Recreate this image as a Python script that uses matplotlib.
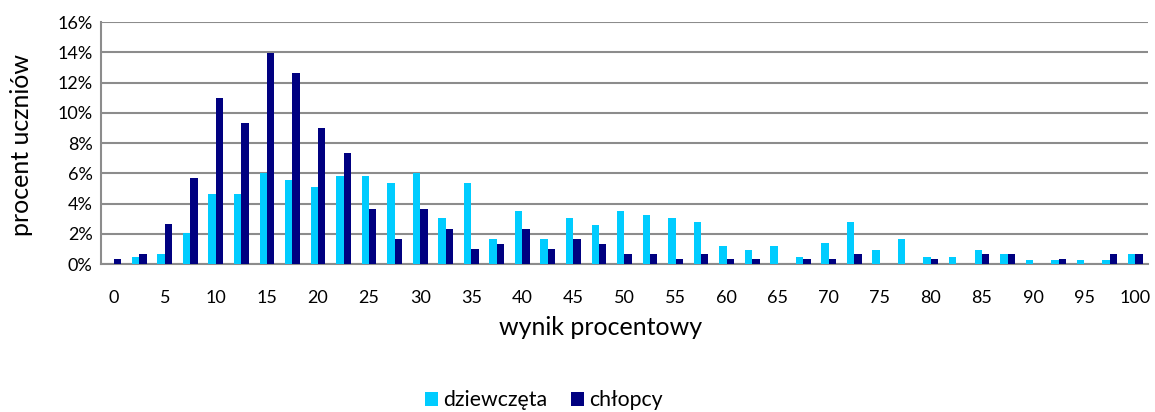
import numpy as np
import matplotlib
matplotlib.use('Agg')
import matplotlib.pyplot as plt
from matplotlib.ticker import FuncFormatter

# wynik procentowy: 0, 2.5, ..., 100
wyniki = [i * 2.5 for i in range(41)]
tick_labels = [str(v) for v in range(0, 101, 5)]

dziewczeta = [0.0, 0.48, 0.70, 2.07, 4.65, 4.65, 6.03, 5.57, 5.11, 5.81,
              5.81, 5.35, 6.03, 3.02, 5.35, 1.63, 3.48, 1.63, 3.02, 2.56,
              3.48, 3.26, 3.02, 2.80, 1.17, 0.95, 1.17, 0.48, 1.39, 2.80,
              0.95, 1.63, 0.48, 0.48, 0.95, 0.70, 0.24, 0.24, 0.24, 0.24,
              0.70]
chlopcy = [0.33, 0.66, 2.64, 5.66, 10.97, 9.30, 13.96, 12.64, 8.99, 7.31,
           3.66, 1.67, 3.66, 2.33, 1.01, 1.32, 2.33, 1.01, 1.67, 1.32,
           0.66, 0.66, 0.33, 0.66, 0.33, 0.33, 0.0, 0.33, 0.33, 0.66,
           0.0, 0.0, 0.33, 0.0, 0.66, 0.66, 0.0, 0.33, 0.0, 0.66,
           0.66]

plt.rcParams['font.family'] = ['Lato', 'DejaVu Sans']

fig = plt.figure(figsize=(11.55, 4.12), dpi=100)
ax = fig.add_axes([0.0874, 0.359, 0.9065, 0.5876])

x = np.arange(len(wyniki))
w = 0.29
ax.bar(x - w / 2, dziewczeta, width=w, color='#00CCFF', label='dziewczęta', zorder=3)
ax.bar(x + w / 2, chlopcy, width=w, color='#000080', label='chłopcy', zorder=3)

ax.set_xlim(-0.5, len(wyniki) - 0.5)
ax.set_ylim(0, 16)
ax.set_yticks(np.arange(0, 17, 2))
ax.yaxis.set_major_formatter(FuncFormatter(lambda v, p: f'{v:.0f}%'))
ax.set_xticks(x[::2])
ax.set_xticklabels(tick_labels)
ax.tick_params(axis='both', length=0, labelsize=13, colors='black')
ax.tick_params(axis='x', pad=19)
ax.tick_params(axis='y', pad=6)

ax.grid(axis='y', color='#8c8c8c', linewidth=1.5, zorder=0)
for s in ['top', 'right']:
    ax.spines[s].set_visible(False)
ax.spines['left'].set_color('#8c8c8c')
ax.spines['bottom'].set_color('#8c8c8c')
ax.spines['left'].set_linewidth(1.5)
ax.spines['bottom'].set_linewidth(1.5)

ax.set_xlabel('wynik procentowy', fontsize=18, va='center')
ax.xaxis.set_label_coords(0.4776, -0.26)
ax.set_ylabel('procent uczniów', fontsize=18, va='center')
ax.yaxis.set_label_coords(-0.0755, 0.49)

fig.legend(loc='center', bbox_to_anchor=(0.471, 0.028), ncol=2, frameon=False,
           fontsize=15.3, handlelength=0.6, handleheight=0.6, handletextpad=0.25,
           columnspacing=1.1)

fig.savefig('out.png', dpi=100)
